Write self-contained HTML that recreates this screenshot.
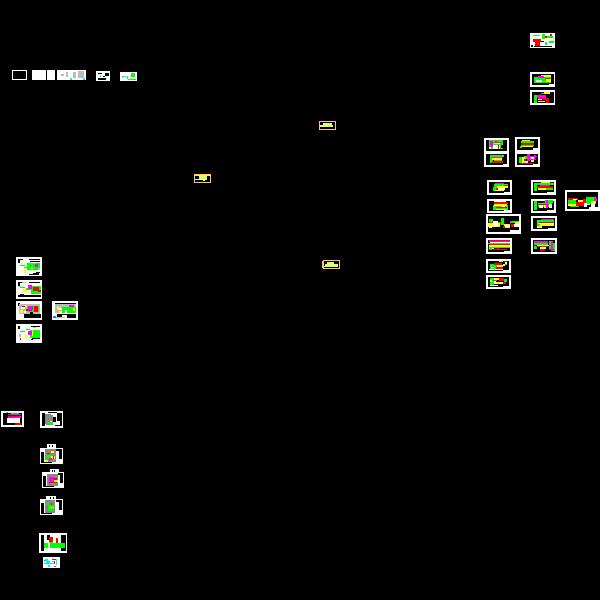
<!DOCTYPE html>
<html><head><meta charset="utf-8"><style>html,body{margin:0;padding:0;background:#000;width:600px;height:600px;overflow:hidden}svg{display:block}</style></head><body>
<svg width="600" height="600" viewBox="0 0 600 600" shape-rendering="crispEdges" xmlns="http://www.w3.org/2000/svg">
<rect width="600" height="600" fill="#000"/>
<!-- white sheets -->
<path fill="#fff" d="M12 70h15v10h-15zM32 70h14v10h-14zM47 70h8v10h-8zM57 70h29v10h-29zM96 71h14v10h-14zM120 72h17v9h-17z
M530 33h25v15h-25zM530 72h25v15h-25zM530 90h25v15h-25z
M484 138h25v14h-25zM484 152h25v15h-25zM515 137h25v15h-25zM515 152h25v15h-25z
M487 180h25v15h-25zM531 180h25v15h-25zM487 199h25v14h-25zM531 199h25v14h-25zM486 214h35v20h-35zM531 216h26v15h-26zM565 190h35v21h-35z
M486 238h26v16h-26zM531 238h26v16h-26zM486 259h25v14h-25zM486 275h25v14h-25z
M16 257h26v19h-26zM16 280h26v19h-26zM16 301h26v19h-26zM52 301h26v19h-26zM16 324h26v19h-26z
M1 411h23v16h-23zM40 411h23v17h-23zM40 448h23v16h-23zM47 444h9v4h-9zM42 472h22v16h-22zM50 469h9v3h-9zM40 499h23v16h-23zM46 496h10v3h-10zM39 533h28v20h-28zM43 557h17v11h-17z"/>
<!-- black interiors -->
<path fill="#000" d="M13 71h13v8h-13z
M532 74h22v10h-5v1h-17zM532 92h22v11h-22z
M486 140h21v11h-21zM486 154h21v10h-4v1h-17zM517 139h21v9h-5v2h-16zM517 154h21v10h-5v1h-16z
M489 182h21v10h-6v1h-15zM533 182h21v10h-7v1h-14zM489 201h21v9h-6v1h-15zM533 201h21v9h-7v1h-14zM488 216h31v14h-9v2h-22zM533 218h22v10h-7v1h-15zM567 192h31v15h-9v2h-22z
M488 240h22v11h-6v1h-16zM533 240h22v12h-22zM488 261h21v9h-6v1h-15zM488 277h21v9h-6v1h-15z
M3 413h19v12h-19z
M42 413h3v13h-3zM48 412h9v1h-9zM57 413h5v8h-5zM60 421h2v5h-7v-1h5z
M41 452h3v11h-3zM56 449h6v2h-6zM59 449h3v10h-3zM44 462h8v1h-8zM52 445h1v2h-1zM49 445h1v2h-1z
M43 476h3v11h-3zM58 473h5v2h-5zM60 473h3v10h-3zM46 486h8v1h-8zM54 470h1v2h-1zM52 470h1v2h-1z
M41 503h3v11h-3zM56 500h6v2h-6zM59 500h3v10h-3zM44 513h8v1h-8zM50 497h1v2h-1zM53 497h1v2h-1z
M41 535h3v16h-3zM61 535h5v16h-5zM47 535h3v5h-3z
M98 73h4v1h-4zM105 73h4v3h-4zM98 78h8v2h-8zM103 76h2v1h-2z"/>
<!-- black marks on left sheets -->
<path fill="#000" d="M18 259h2v4h-2zM18 259h5v1h-5zM29 259h11v1h-11zM30 261h10v1h-10zM33 273h6v2h-6zM29 274h4v1h-4zM36 272h4v1h-4z
M18 282h2v4h-2zM18 282h5v1h-5zM29 282h11v1h-11zM18 295h23v2h-23zM20 294h4v1h-4z
M18 303h2v3h-2zM24 314h17v4h-17zM18 304h1v1h-1z
M18 326h2v3h-2zM31 326h9v1h-9zM32 337h8v2h-8zM31 339h2v1h-2z
M55 303h21v1h-21zM53 313h3v0h-3zM57 314h19v4h-19z"/>
<!-- gray -->
<path fill="#bbb" d="M66 72h2v5h-2zM73 72h3v6h-3zM78 71h6v7h-6zM61 74h3v2h-3z
M19 304h21v10h-21zM55 304h21v9h-21z
M45 414h6v10h-6"/>
<path fill="#888" d="M45 414h6v10h-6zM45 449h11v13h-11zM47 474h11v12h-11zM45 500h10v13h-10z"/>
<!-- top-right sheet 530,33 -->
<path fill="#0f0" d="M533 35h7v1h-7zM542 34h3v5h-3zM547 36h6v2h-6zM549 41h5v2h-5zM545 42h2v3h-2z"/>
<path fill="#f00" d="M533 39h8v3h-8zM535 42h5v4h-5zM545 36h2v2h-2zM550 34h2v2h-2z"/>
<path fill="#000" d="M531 45h2v2h-2zM534 46h18v1h-18zM541 41h3v1h-3z"/>
<!-- sheets 530,72 & 530,90 -->
<path fill="#0f0" d="M534 77h17v6h-17z"/>
<path fill="#ff0" d="M541 75h10v2h-10zM546 79h5v3h-5z"/>
<path fill="#f0f" d="M538 76h6v2h-6z"/>
<path fill="#fff" d="M536 80h6v2h-6z"/>
<path fill="#f00" d="M545 78h5v1h-5z"/>
<path fill="#0f0" d="M534 95h3v8h-3zM541 93h7v1h-7z"/>
<path fill="#f0f" d="M537 95h9v3h-9z"/>
<path fill="#ff0" d="M544 92h6v2h-6zM538 101h7v1h-7z"/>
<path fill="#f00" d="M538 98h11v2h-11zM546 100h3v3h-3z"/>
<path fill="#fff" d="M538 99h4v1h-4z"/>
<!-- 484,138 -->
<path fill="#0f0" d="M489 140h14v9h-14z"/>
<path fill="#f0f" d="M490 141h3v6h-3zM494 142h8v1h-8z"/>
<path fill="#fff" d="M493 145h7v4h-7zM489 147h2v2h-2z"/>
<path fill="#ff0" d="M494 143h6v1h-6z"/>
<path fill="#f00" d="M498 145h1v4h-1zM495 141h2v1h-2z"/>
<path fill="#000" d="M501 145h2v3h-2z"/>
<!-- 484,152 -->
<path fill="#0f0" d="M490 155h14v2h-14zM490 157h3v6h-3zM494 160h8v1h-8z"/>
<path fill="#f0f" d="M491 157h12v1h-12z"/>
<path fill="#ff0" d="M492 158h10v2h-10z"/>
<path fill="#f00" d="M492 161h11v2h-11z"/>
<!-- 515,137 -->
<path fill="#0f0" d="M521 141h13v2h-13zM521 145h13v1h-13zM520 146h2v2h-2z"/>
<path fill="#f00" d="M521 143h13v2h-13z"/>
<path fill="#ff0" d="M522 146h11v1h-11zM522 140h8v1h-8z"/>
<!-- 515,152 -->
<path fill="#0f0" d="M519 157h3v6h-3zM524 156h11v3h-11z"/>
<path fill="#f0f" d="M527 154h3v7h-3zM530 156h7v1h-7zM529 159h7v1h-7zM534 155h2v3h-2z"/>
<path fill="#ff0" d="M522 157h3v6h-3zM531 160h3v2h-3z"/>
<path fill="#fff" d="M525 161h3v2h-3zM531 157h3v2h-3z"/>
<path fill="#f00" d="M524 159h2v2h-2zM520 163h14v1h-14z"/>
<!-- 487,180 -->
<path fill="#0f0" d="M494 184h14v3h-14zM493 187h5v4h-5z"/>
<path fill="#f0f" d="M495 183h9v1h-9z"/>
<path fill="#ff0" d="M497 186h11v2h-11zM495 190h9v1h-9z"/>
<path fill="#fff" d="M498 188h7v2h-7z"/>
<path fill="#f00" d="M496 188h2v2h-2zM504 185h4v1h-4z"/>
<!-- 531,180 -->
<path fill="#0f0" d="M534 183h20v2h-20zM534 185h3v6h-3zM546 188h7v2h-7z"/>
<path fill="#f00" d="M537 186h16v2h-16z"/>
<path fill="#ff0" d="M538 188h8v2h-8zM541 182h9v1h-9z"/>
<path fill="#f0f" d="M540 185h10v1h-10z"/>
<!-- 487,199 -->
<path fill="#0f0" d="M493 205h15v5h-15z"/>
<path fill="#f00" d="M494 202h14v2h-14zM496 207h11v1h-11z"/>
<path fill="#ff0" d="M494 204h13v2h-13zM496 209h10v1h-10z"/>
<path fill="#fff" d="M494 201h12v1h-12zM502 206h3v1h-3z"/>
<!-- 531,199 -->
<path fill="#0f0" d="M534 201h3v9h-3zM545 200h8v3h-8zM538 203h14v4h-14z"/>
<path fill="#f00" d="M537 204h15v1h-15z"/>
<path fill="#ff0" d="M544 205h4v3h-4z"/>
<path fill="#f0f" d="M546 200h2v8h-2z"/>
<path fill="#fff" d="M539 205h4v3h-4zM549 204h3v4h-3z"/>
<!-- 486,214 -->
<path fill="#0f0" d="M489 219h4v4h-4zM501 218h3v6h-3zM511 221h8v2h-8zM498 222h6v3h-6z"/>
<path fill="#ff0" d="M488 223h12v4h-12zM504 224h6v4h-6zM515 222h4v2h-4z"/>
<path fill="#f00" d="M489 222h4v1h-4zM503 226h2v2h-2zM511 224h8v3h-8zM500 222h1v3h-1z"/>
<path fill="#fff" d="M493 221h5v5h-5zM505 225h5v2h-5zM514 224h5v3h-5zM489 226h3v2h-3z"/>
<path fill="#f0f" d="M510 221h1v3h-1z"/>
<!-- 531,216 -->
<path fill="#0f0" d="M537 220h17v6h-17z"/>
<path fill="#f0f" d="M541 219h13v1h-13z"/>
<path fill="#f00" d="M539 222h15v1h-15z"/>
<path fill="#ff0" d="M540 224h14v2h-14zM537 226h5v2h-5z"/>
<path fill="#fff" d="M538 223h16v1h-16z"/>
<!-- 486,238 -->
<path fill="#f00" d="M489 240h21v1h-21zM489 244h21v1h-21z"/>
<path fill="#ff0" d="M489 245h21v2h-21z"/>
<path fill="#0f0" d="M488 243h22v1h-22zM489 247h21v1h-21zM489 248h3v2h-3z"/>
<path fill="#f0f" d="M489 241h21v1h-21z"/>
<path fill="#fff" d="M490 242h20v1h-20zM492 248h2v1h-2z"/>
<path fill="#f00" d="M493 249h14v1h-14zM497 248h2v1h-2z"/>
<!-- 531,238 -->
<path fill="#f0f" d="M534 241h14v2h-14z"/>
<path fill="#0f0" d="M534 243h14v2h-14zM549 241h2v8h-2zM553 243h2v8h-2zM534 246h3v3h-3z"/>
<path fill="#ff0" d="M537 245h12v1h-12z"/>
<path fill="#f00" d="M536 246h12v1h-12zM540 249h5v2h-5zM549 249h5v1h-5z"/>
<path fill="#f0f" d="M551 241h2v10h-2zM549 245h4v1h-4z"/>
<path fill="#fff" d="M540 247h6v2h-6z"/>
<!-- 486,259 -->
<path fill="#0f0" d="M490 264h12v5h-12zM505 263h2v2h-2z"/>
<path fill="#f00" d="M494 263h8v2h-8zM496 267h7v2h-7zM504 261h3v1h-3z"/>
<path fill="#ff0" d="M497 265h6v2h-6zM503 264h2v2h-2zM499 261h4v1h-4z"/>
<path fill="#fff" d="M491 267h3v1h-3zM505 262h2v2h-2zM489 269h14v1h-14z"/>
<path fill="#000" d="M489 270h1v0h-1z"/>
<!-- 486,275 -->
<path fill="#0f0" d="M490 278h4v7h-4zM504 279h3v3h-3z"/>
<path fill="#f00" d="M499 278h5v3h-5zM503 282h3v2h-3z"/>
<path fill="#ff0" d="M494 278h5v2h-5zM496 282h4v2h-4zM490 280h2v2h-2z"/>
<path fill="#f0f" d="M493 280h4v1h-4z"/>
<path fill="#fff" d="M494 281h2v3h-2zM500 282h3v2h-3zM490 285h8v1h-8z"/>
<!-- 565,190 -->
<path fill="#0f0" d="M568 200h8v5h-8zM586 197h10v7h-10zM577 205h6v1h-6zM570 206h9v1h-9z"/>
<path fill="#f00" d="M568 198h10v2h-10zM576 202h10v4h-10zM583 199h3v3h-3z"/>
<path fill="#ff0" d="M568 204h8v2h-8zM578 200h5v2h-5zM591 201h5v2h-5z"/>
<path fill="#fff" d="M573 199h4v1h-4zM584 203h3v4h-3zM591 203h4v4h-4zM587 204h3v1h-3z"/>
<path fill="#f0f" d="M594 198h3v3h-3z"/>
<!-- left big sheets -->
<path fill="#0f0" d="M27 263h13v7h-13zM20 265h5v1h-5zM24 267h3v1h-3z"/>
<path fill="#f0f" d="M35 264h3v3h-3z"/>
<path fill="#ff0" d="M24 269h2v4h-2zM31 267h2v2h-2zM21 263h2v1h-2z"/>
<path fill="#bbb" d="M38 268h2v2h-2zM33 263h2v1h-2z"/>
<path fill="#0f0" d="M31 286h10v8h-10zM20 287h5v1h-5zM26 288h5v2h-5z"/>
<path fill="#f0f" d="M28 285h4v4h-4z"/>
<path fill="#f00" d="M33 287h6v4h-6zM38 290h3v2h-3z"/>
<path fill="#ff0" d="M23 289h3v3h-3zM27 291h2v2h-2z"/>
<path fill="#bbb" d="M18 286h3v1h-3zM22 282h5v1h-5z"/>
<path fill="#0f0" d="M27 306h12v6h-12z"/>
<path fill="#f00" d="M22 306h4v1h-4zM34 306h4v6h-4zM26 309h6v2h-6z"/>
<path fill="#f0f" d="M28 306h5v4h-5z"/>
<path fill="#ff0" d="M20 310h3v3h-3zM25 305h2v2h-2z"/>
<path fill="#fff" d="M21 307h4v2h-4zM24 311h2v2h-2z"/>
<path fill="#000" d="M30 312h3v2h-3z"/>
<path fill="#0f0" d="M30 330h10v8h-10zM20 331h5v1h-5zM26 329h4v1h-4z"/>
<path fill="#f0f" d="M28 331h4v4h-4z"/>
<path fill="#ff0" d="M25 335h3v3h-3zM32 330h1v6h-1z"/>
<path fill="#f00" d="M20 338h1v2h-1z"/>
<path fill="#bbb" d="M19 334h2v3h-2zM33 327h3v1h-3z"/>
<path fill="#0f0" d="M62 307h14v6h-14z"/>
<path fill="#f0f" d="M69 305h5v2h-5z"/>
<path fill="#ff0" d="M57 306h2v3h-2zM59 311h3v2h-3zM73 308h2v3h-2z"/>
<path fill="#fff" d="M58 308h4v2h-4zM62 315h5v3h-5zM65 310h2v3h-2z"/>
<path fill="#bbb" d="M55 317h10v1h-10z"/>
<path fill="#08f" d="M53 316h3v2h-3z"/>
<!-- top row details -->
<path fill="#0ef" d="M70 78h2v2h-2zM83 78h2v2h-2zM100 75h1v2h-1zM122 76h4v1h-4zM122 77h1v1h-1z"/>
<path fill="#0f0" d="M131 73h4v4h-4zM128 79h8v1h-8zM127 76h1v3h-1z"/>
<!-- 1,411 -->
<path fill="#0f0" d="M6 412h2v1h-2zM11 413h8v1h-8z"/>
<path fill="#f0f" d="M8 414h13v1h-13zM8 416h13v2h-13z"/>
<path fill="#fff" d="M7 418h13v5h-13z"/>
<path fill="#f00" d="M15 423h6v2h-6zM9 416h10v1h-10z"/>
<!-- 40,411 -->
<path fill="#888" d="M46 415h7v10h-7z"/>
<path fill="#0f0" d="M47 422h6v2h-6z"/>
<path fill="#ff0" d="M50 421h2v1h-2z"/>
<path fill="#000" d="M53 417h3v5h-3z"/>
<!-- towers -->
<path fill="#ff0" d="M49 456h6v3h-6zM51 451h3v2h-3zM45 460h3v2h-3z"/>
<path fill="#0f0" d="M46 455h5v4h-5z"/>
<path fill="#f0f" d="M49 458h3v2h-3z"/>
<path fill="#f00" d="M47 453h3v1h-3zM53 456h1v3h-1z"/>
<path fill="#f00" d="M49 478h8v5h-8z"/>
<path fill="#f0f" d="M49 477h5v5h-5z"/>
<path fill="#ff0" d="M54 480h4v2h-4z"/>
<path fill="#0f0" d="M52 483h3v1h-3zM47 482h2v1h-2z"/>
<path fill="#0f0" d="M48 505h6v6h-6zM46 503h3v2h-3z"/>
<path fill="#ff0" d="M50 507h4v1h-4z"/>
<path fill="#f00" d="M51 503h1v2h-1z"/>
<!-- 39,533 -->
<path fill="#0f0" d="M44 543h21v5h-21zM49 541h4v2h-4z"/>
<path fill="#fff" d="M48 543h2v5h-2z"/>
<path fill="#f00" d="M49 537h4v5h-4zM56 538h2v5h-2z"/>
<!-- cyan 43,557 -->
<path fill="#0ef" d="M45 559h3v2h-3zM46 561h4v3h-4zM50 563h4v1h-4zM48 565h2v2h-2zM56 559h1v6h-1zM44 563h2v1h-2zM52 561h3v1h-3z"/>
<path fill="#f00" d="M52 559h4v1h-4zM54 561h1v3h-1z"/>
<path fill="#666" d="M54 566h2v1h-2zM44 560h1v1h-1z"/>
<!-- orange small sheets -->
<path fill="#ffc080" d="M319 121h17v9h-17zM194 174h17v9h-17zM323 260h17v9h-17zM322 261h1v7h-1z"/>
<path fill="#000" d="M320 122h15v7h-15zM195 175h15v7h-15zM324 261h15v7h-15z"/>
<path fill="#d8ff70" d="M323 123h9v2h-9zM320 125h13v2h-13zM199 176h8v3h-8zM195 179h12v1h-12zM203 180h2v1h-2zM327 262h7v2h-7zM325 264h13v2h-13zM324 266h14v1h-14z"/>
<path fill="#ff0" d="M195 175h15v1h-15z"/>
</svg>
</body></html>
